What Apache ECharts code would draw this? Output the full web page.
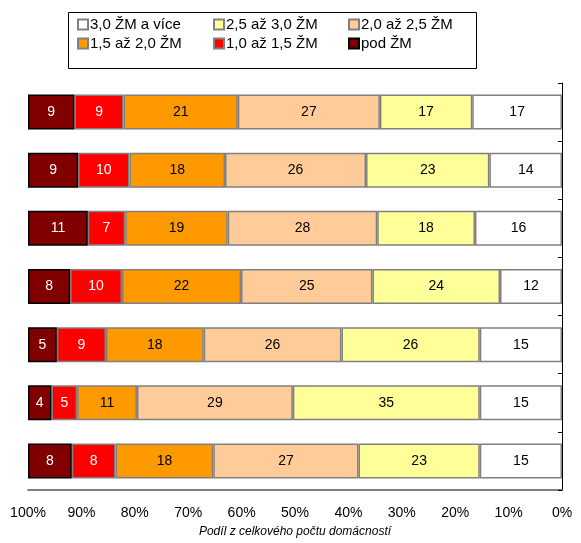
<!DOCTYPE html>
<html>
<head>
<meta charset="utf-8">
<script src="https://cdn.jsdelivr.net/npm/echarts@6/dist/echarts.min.js"></script>
<style>
html,body{margin:0;padding:0;background:#fff;}
#c{width:581px;height:543px;}
</style>
</head>
<body>
<div id="c"></div>
<script>
// Rows from top to bottom (category names not shown in the reference)
var categories = ['1', '2', '3', '4', '5', '6', '7'];
var seriesNames = ['3,0 ŽM a více', '2,5 až 3,0 ŽM', '2,0 až 2,5 ŽM', '1,5 až 2,0 ŽM', '1,0 až 1,5 ŽM', 'pod ŽM'];
// Shares in % (estimated; labels show rounded values)
var v30plus  = [16.8, 13.6, 16.3, 11.6, 15.4, 15.4, 15.4];
var v25to30  = [17.3, 23.1, 18.3, 23.9, 25.9, 35.0, 22.7];
var v20to25  = [26.6, 26.4, 28.0, 24.6, 25.8, 29.2, 27.2];
var v15to20  = [21.4, 17.9, 19.2, 22.3, 18.3, 11.2, 18.3];
var v10to15  = [9.2, 9.6, 7.0, 9.7, 9.2, 4.8, 8.2];
var vPod     = [8.7, 9.4, 11.2, 7.9, 5.4, 4.4, 8.2];
var xTicks = [0, 10, 20, 30, 40, 50, 60, 70, 80, 90, 100];

var values = [v30plus, v25to30, v20to25, v15to20, v10to15, vPod];
var fills = ['#FFFFFF', '#FFFF99', '#FFCC99', '#FF9900', '#FF0000', '#800000'];
var borders = ['#808080', '#808080', '#808080', '#808080', '#808080', '#000000'];
var labelColors = ['#000', '#000', '#000', '#000', '#fff', '#fff'];

var FONT = '"Liberation Sans", Arial, sans-serif';

var series = values.map(function (d, i) {
  return {
    name: seriesNames[i],
    type: 'bar',
    stack: 'total',
    barWidth: 35,
    data: d,
    itemStyle: { color: fills[i], borderColor: borders[i], borderWidth: 1.5 },
    label: {
      show: true, position: 'inside', color: labelColors[i],
      fontFamily: FONT, fontSize: 14,
      formatter: function (p) { return Math.round(p.value); }
    },
    emphasis: { disabled: true }
  };
});

var legendPos = [[77, 17], [213, 17], [348, 17], [77, 36], [213, 36], [348, 36]];
var legends = seriesNames.map(function (n, i) {
  return {
    data: [n], left: legendPos[i][0], top: legendPos[i][1],
    icon: 'rect', itemWidth: 10, itemHeight: 10, itemGap: 0,
    padding: 0,
    textStyle: { fontFamily: FONT, fontSize: 15, color: '#000', padding: [0, 0, 0, -3] },
    selectedMode: false
  };
});

var chart = echarts.init(document.getElementById('c'), null, { renderer: 'canvas' });
chart.setOption({
  animation: false,
  backgroundColor: '#fff',
  legend: legends,
  graphic: [{
    type: 'rect', shape: { x: 68.5, y: 12.5, width: 408, height: 56 },
    style: { fill: 'none', stroke: '#000', lineWidth: 1 }, z: -1
  }],
  grid: { left: 28, right: 19, top: 83, bottom: 52 },
  xAxis: {
    type: 'value', min: 0, max: 100, interval: 10, inverse: true,
    axisLine: { show: true, lineStyle: { color: '#555', width: 1.5 } },
    axisTick: { show: false },
    splitLine: { show: false },
    axisLabel: { formatter: '{value}%', color: '#000', fontFamily: FONT, fontSize: 14, margin: 16 },
    name: 'Podíl z celkového počtu domácností',
    nameLocation: 'middle', nameGap: 36,
    nameTextStyle: { fontFamily: FONT, fontSize: 12, fontStyle: 'italic', color: '#000' }
  },
  yAxis: {
    type: 'category', data: categories, inverse: true,
    axisLine: { show: true, lineStyle: { color: '#000', width: 1 } },
    axisTick: { show: true, length: 4, lineStyle: { color: '#000' } },
    axisLabel: { show: false }
  },
  series: series
});
</script>
</body>
</html>
